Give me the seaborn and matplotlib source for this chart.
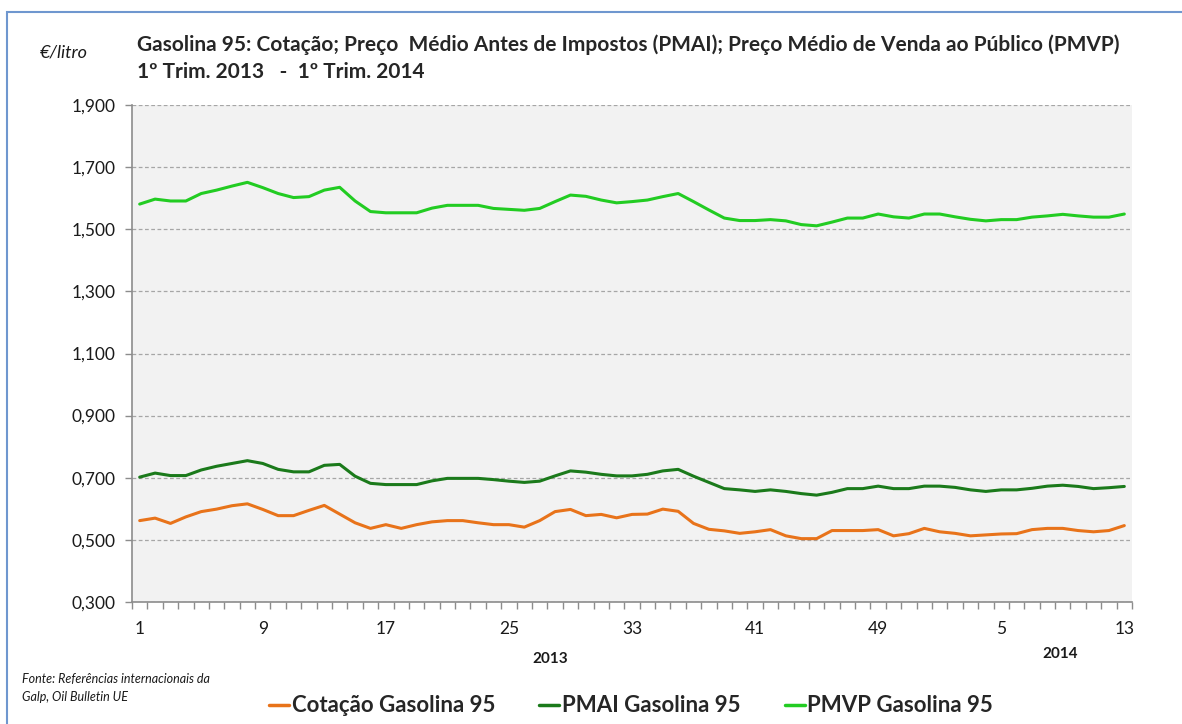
import matplotlib
matplotlib.use("Agg")
import matplotlib.pyplot as plt
import matplotlib.patches as mpatches
from matplotlib.ticker import FixedLocator, FuncFormatter
import seaborn as sns
import pandas as pd

### data (weekly, 2013 wk1 .. 2014 wk13)
weeks = list(range(1, 53)) + list(range(1, 14))

cotacao = [
    0.562, 0.570, 0.553, 0.574, 0.591, 0.599, 0.610, 0.616, 0.598, 0.578,
    0.578, 0.595, 0.611, 0.583, 0.555, 0.537, 0.549, 0.537, 0.549, 0.558,
    0.562, 0.562, 0.555, 0.549, 0.549, 0.541, 0.562, 0.591, 0.598, 0.578,
    0.582, 0.571, 0.582, 0.583, 0.599, 0.592, 0.553, 0.534, 0.529, 0.521,
    0.526, 0.533, 0.513, 0.504, 0.504, 0.530, 0.530, 0.530, 0.533, 0.513,
    0.520, 0.537, 0.526, 0.521, 0.513, 0.516, 0.519, 0.520, 0.533, 0.537,
    0.537, 0.530, 0.526, 0.530, 0.546,
]
pmai = [
    0.702, 0.715, 0.707, 0.707, 0.725, 0.737, 0.746, 0.755, 0.746, 0.727,
    0.719, 0.719, 0.740, 0.743, 0.705, 0.682, 0.678, 0.678, 0.678, 0.690,
    0.698, 0.698, 0.698, 0.694, 0.689, 0.685, 0.689, 0.706, 0.722, 0.718,
    0.711, 0.706, 0.706, 0.711, 0.722, 0.727, 0.705, 0.685, 0.665, 0.661,
    0.656, 0.661, 0.656, 0.649, 0.644, 0.653, 0.665, 0.665, 0.673, 0.665,
    0.665, 0.673, 0.673, 0.669, 0.661, 0.656, 0.661, 0.661, 0.666, 0.673,
    0.676, 0.672, 0.665, 0.668, 0.672,
]
pmvp = [
    1.581, 1.597, 1.591, 1.591, 1.615, 1.626, 1.639, 1.651, 1.634, 1.615,
    1.602, 1.605, 1.626, 1.635, 1.591, 1.557, 1.553, 1.553, 1.553, 1.568,
    1.577, 1.577, 1.577, 1.567, 1.564, 1.561, 1.567, 1.589, 1.610, 1.606,
    1.594, 1.585, 1.589, 1.594, 1.605, 1.615, 1.589, 1.562, 1.536, 1.528,
    1.528, 1.531, 1.527, 1.515, 1.511, 1.523, 1.536, 1.536, 1.549, 1.540,
    1.536, 1.549, 1.549, 1.540, 1.532, 1.527, 1.531, 1.531, 1.539, 1.543,
    1.548, 1.543, 1.539, 1.539, 1.549,
]

series_names = ["Cotação Gasolina 95", "PMAI Gasolina 95", "PMVP Gasolina 95"]
series_colors = ["#E8731A", "#1B7A1B", "#22CC22"]
y_ticks = [0.3, 0.5, 0.7, 0.9, 1.1, 1.3, 1.5, 1.7, 1.9]
year_labels = ["2013", "2014"]

title_1 = "Gasolina 95: Cotação; Preço  Médio Antes de Impostos (PMAI); Preço Médio de Venda ao Público (PMVP)"
title_2 = "1º Trim. 2013   -  1º Trim. 2014"
source_txt = "Fonte: Referências internacionais da\nGalp, Oil Bulletin UE"

idx = list(range(len(weeks)))
df = pd.DataFrame({
    "pos": idx * 3,
    "valor": cotacao + pmai + pmvp,
    "serie": [series_names[0]] * len(idx) + [series_names[1]] * len(idx) + [series_names[2]] * len(idx),
})

sns.set_theme(style="white")
plt.rcParams["font.family"] = ["Lato", "DejaVu Sans"]

fig = plt.figure(figsize=(11.82, 7.24), dpi=100)
ax = fig.add_axes([132 / 1182, 1 - 602 / 724, 1000 / 1182, 497 / 724])
ax.set_facecolor("#F2F2F2")

sns.lineplot(
    data=df, x="pos", y="valor", hue="serie",
    palette=dict(zip(series_names, series_colors)),
    linewidth=2.2, legend=False, ax=ax,
)

ax.set_xlim(-0.5, len(idx) - 0.5)
ax.set_ylim(0.3, 1.9)
ax.set_xlabel("")
ax.set_ylabel("")

# y axis
ax.set_yticks(y_ticks)
ax.yaxis.set_major_formatter(FuncFormatter(lambda v, p: f"{v:.3f}".replace(".", ",")))
ax.tick_params(axis="y", length=5, width=1, color="#8C8C8C", pad=7, labelsize=12.5, labelcolor="#1a1a1a", left=True)
ax.yaxis.grid(True, linestyle=(0, (3, 2)), color="#A6A6A6", linewidth=0.9)
ax.xaxis.grid(False)

# x axis: labels every 8 weeks, tick marks between categories
lab_pos = idx[::8]
ax.set_xticks(lab_pos)
ax.set_xticklabels([str(weeks[i]) for i in lab_pos])
ax.xaxis.set_minor_locator(FixedLocator([i - 0.5 for i in range(len(idx) + 1)]))
ax.tick_params(axis="x", which="major", length=0, pad=14, labelsize=12.5, labelcolor="#1a1a1a")
ax.tick_params(axis="x", which="minor", length=5, width=1, color="#8C8C8C", bottom=True)

for s in ["top", "right"]:
    ax.spines[s].set_visible(False)
for s in ["left", "bottom"]:
    ax.spines[s].set_color("#8C8C8C")
    ax.spines[s].set_linewidth(1.2)

# year labels under the axis
ax.text(26.7, -0.115, year_labels[0], transform=ax.get_xaxis_transform(),
        ha="center", va="center", fontsize=11, fontweight="bold", color="#1a1a1a")
ax.text(59.8, -0.105, year_labels[1], transform=ax.get_xaxis_transform(),
        ha="center", va="center", fontsize=11, fontweight="bold", color="#1a1a1a")

# titles and notes
fig.text(137 / 1182, 1 - 45 / 724, title_1, ha="left", va="center", fontsize=15, fontweight="bold")
fig.text(137 / 1182, 1 - 72 / 724, title_2, ha="left", va="center", fontsize=15, fontweight="bold")
fig.text(40 / 1182, 1 - 53 / 724, "€/litro", ha="left", va="center", fontsize=13, style="italic", color="#1a1a1a")
fig.text(22 / 1182, 1 - 688 / 724, source_txt, ha="left", va="center", fontsize=9,
         style="italic", color="#1a1a1a", linespacing=1.6)

# legend
handles = [plt.Line2D([], [], color=c, linewidth=2.5) for c in series_colors]
fig.legend(handles, series_names, loc="center", bbox_to_anchor=(631 / 1182, 1 - 706 / 724),
           ncol=3, frameon=False, handlelength=0.9, handletextpad=0.1, columnspacing=2.0,
           prop={"weight": "bold", "size": 16})

# blue outer frame
fig.patches.append(mpatches.Rectangle((7 / 1182, -0.05), 1.1, 1 - 12 / 724 + 0.05,
                                      transform=fig.transFigure, fill=False,
                                      edgecolor="#6F97CF", linewidth=1.5))

fig.savefig("out.png", dpi=100)
